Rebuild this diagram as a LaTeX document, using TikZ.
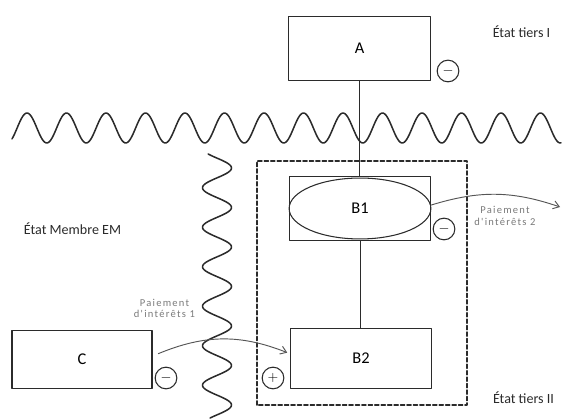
\documentclass[tikz,border=0pt]{standalone}
\usepackage{fontspec}
\setmainfont{Carlito}
\newfontfamily\payfont[LetterSpace=12]{Carlito}
\usetikzlibrary{arrows.meta,positioning,calc,shapes.geometric}
\definecolor{ink}{HTML}{2B2B2B}
\definecolor{paygray}{HTML}{7A7A7A}
\tikzset{
  ent/.style={rectangle,draw=ink,line width=0.9pt,inner sep=0pt,
              minimum width=121pt,minimum height=55pt,
              font=\fontsize{14}{16}\selectfont},
  sgn/.style={circle,draw=ink,line width=0.9pt,inner sep=0pt,minimum size=18.5pt,
              font=\large},
  st/.style={font=\fontsize{12}{14}\selectfont,text=ink},
  pay/.style={align=center,text=paygray,font=\payfont\fontsize{9}{9.8}\selectfont},
  wave/.style={draw=ink,line width=1.3pt},
  payarrow/.style={draw=ink!80,line width=0.8pt,-{Straight Barb[length=5pt,width=7pt]}},
  every picture/.style={line cap=round,line join=round}}

\begin{document}
\begin{tikzpicture}[x=0.03cm,y=0.03cm]
  \useasboundingbox (0,0) rectangle (562,418);
  % borders between states
  \draw[wave] plot[domain=12:561,samples=400,smooth] (\x,{290+15*cos(9.1139*(\x-27))});
  \draw[wave] plot[domain=0:264,samples=300,smooth] ({217+14.5*cos(9.1139*(\x-250))},\x);
  \draw[draw=ink,line width=1.3pt,dash pattern=on 3.5pt off 2pt] (257,13) rectangle (467,257);
  % entities
  \node[ent] (a) at (359.5,369.5){A};
  \node[ent] (b1) at (360,209.5){};
  \node[ellipse,draw=ink,line width=0.9pt,inner sep=0pt,minimum width=121pt,minimum height=52pt,
        font=\fontsize{14}{16}\selectfont] (b1e) at (b1.center){B1};
  \node[ent,minimum height=50.5pt] (b2) at (361,59.5){B2};
  \node[ent,minimum width=119.5pt,minimum height=49pt] (c) at (82,58.5){C};
  \draw[draw=ink,line width=0.8pt] (a.south) -- (a.south |- b1.north);
  \draw[draw=ink,line width=0.8pt] (b1.south) -- (b1.south |- b2.north);
  % signs
  \node[sgn] (sa) at (448,347){$-$};
  \node[sgn] (sb1) at (444,189){$-$};
  \node[sgn] (sb2) at (273,40){$+$};
  \node[sgn] (sc) at (166,40){$-$};
  % states
  \node[st] (t1) at (521.5,386){État tiers I};
  \node[st] (t2) at (523.5,20){État tiers II};
  \node[st] (em) at (72.5,189){État Membre EM};
  % payments
  \coordinate (out2) at (560,211);
  \draw[payarrow] ([xshift=5pt,yshift=5pt]c.east) to[bend left=22] ([xshift=-2pt,yshift=5pt]b2.west);
  \draw[payarrow] ([yshift=3pt]b1e.east) to[bend left=18] (out2);
  \node[pay] (p1) at (164.5,109.5){Paiement\\d'intérêts 1};
  \node[pay] (p2) at (505,202){Paiement\\d'intérêts 2};
\end{tikzpicture}
\end{document}
